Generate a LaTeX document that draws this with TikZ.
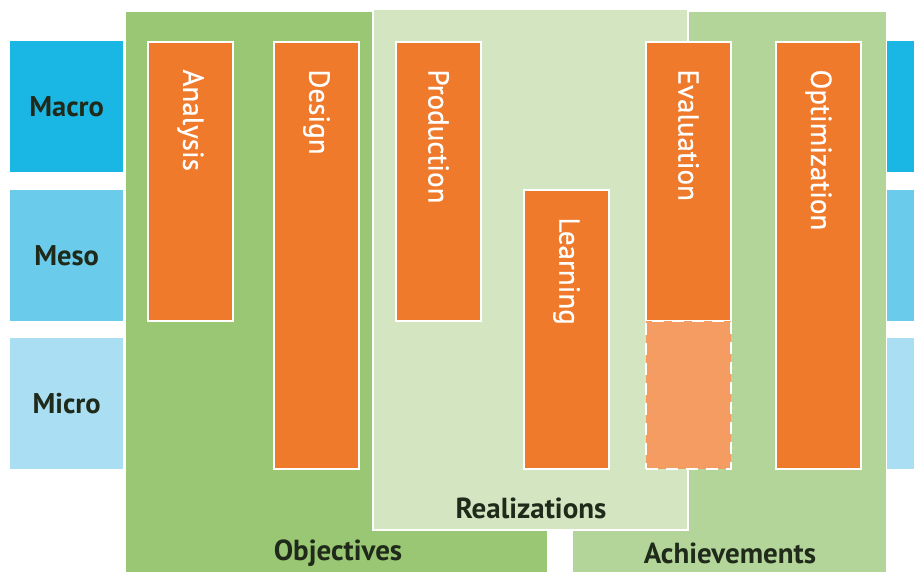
\documentclass[tikz,border=0pt]{standalone}
\usepackage{fontspec}
\setmainfont{PT Sans}
\newfontfamily\barfont[FakeBold=0.6]{PT Sans}
\definecolor{macroc}{HTML}{1AB7E4}
\definecolor{mesoc}{HTML}{6ACBEB}
\definecolor{microc}{HTML}{A9DEF3}
\definecolor{objc}{HTML}{9AC774}
\definecolor{achc}{HTML}{B4D59A}
\definecolor{realc}{HTML}{D3E6C1}
\definecolor{orc}{HTML}{F07A2B}
\definecolor{lorc}{HTML}{F59C62}
\definecolor{txtc}{HTML}{1F2A1A}
\begin{document}
\begin{tikzpicture}[x=1pt,y=-1pt,
  levelbox/.style={anchor=north west, inner sep=0pt, minimum width=113pt, minimum height=131pt},
  leveltext/.style={font=\fontsize{28.5}{30}\selectfont\bfseries, text=txtc},
  bar/.style={anchor=north west, draw=white, line width=2pt, fill=orc, inner sep=0pt, minimum width=85pt},
  bartext/.style={font=\barfont\fontsize{29}{30}\selectfont, text=white, rotate=-90, anchor=west},
  regiontext/.style={font=\fontsize{29}{30}\selectfont\bfseries, text=txtc}]
\useasboundingbox (0,0) rectangle (914,572);
\fill[white] (0,0) rectangle (914,572);
% regions
\fill[objc] (126,12) rectangle (547,572);
\fill[achc] (573,12) rectangle (886,572);
\draw[white, line width=2pt, fill=realc] (373,10) -- (373,530) -- (688,530) -- (688,10);
\node[regiontext] (objectives) at (338,553) {Objectives};
\node[regiontext] (achievements) at (730,553) {Achievements};
\node[regiontext] (realizations) at (531,508) {Realizations};
% level boxes
\node[levelbox, fill=macroc] (macro) at (10,41) {};
\node[levelbox, fill=mesoc] (meso) at (10,190) {};
\node[levelbox, fill=microc] (micro) at (10,338) {};
\node[leveltext] at (macro.center) {Macro};
\node[leveltext] at (meso.center) {Meso};
\node[leveltext] at (micro.center) {Micro};
\node[levelbox, fill=macroc, minimum width=30pt] (macroR) at (887,41) {};
\node[levelbox, fill=mesoc, minimum width=30pt] (mesoR) at (887,190) {};
\node[levelbox, fill=microc, minimum width=30pt] (microR) at (887,338) {};
% bars
\node[bar, minimum height=279pt] (analysis) at (147,41) {};
\node[bar, minimum height=427pt] (design) at (273,41) {};
\node[bar, minimum height=279pt] (production) at (395,41) {};
\node[bar, minimum height=279pt] (learning) at (523,189) {};
\node[bar, minimum height=279pt] (evaluation) at (645,41) {};
\node[bar, minimum height=148pt, fill=lorc, dash pattern=on 12pt off 8pt] (evalext) at (645,320) {};
\node[bar, minimum height=427pt] (optimization) at (775,41) {};
\foreach \b/\t in {analysis/Analysis, design/Design, production/Production, learning/Learning, evaluation/Evaluation, optimization/Optimization}
  \node[bartext] (\b-label) at ([yshift=-25pt]\b.north) {\t};
\end{tikzpicture}
\end{document}
